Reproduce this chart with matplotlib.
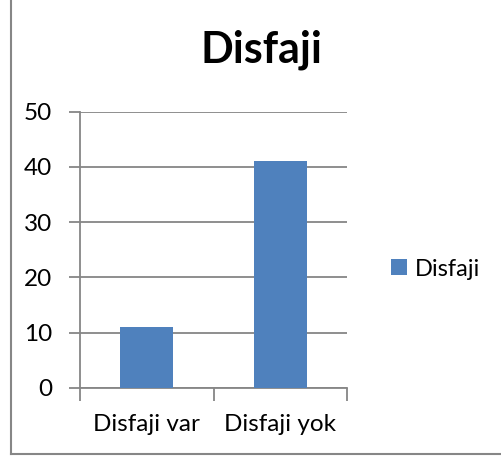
import matplotlib
matplotlib.use("Agg")
import matplotlib.pyplot as plt
from matplotlib.lines import Line2D

categories = ["Disfaji var", "Disfaji yok"]
values = [11, 41]
series_name = "Disfaji"
title = "Disfaji"
yticks = [0, 10, 20, 30, 40, 50]

plt.rcParams['font.family'] = ['Lato', 'DejaVu Sans']

W, H = 501, 459
fig = plt.figure(figsize=(W / 100, H / 100), dpi=100)
ax = fig.add_axes([80 / W, (H - 388) / H, (347 - 80) / W, (388 - 111.7) / H])

grid_col = "#868686"
bar_col = "#4F81BD"

bars = ax.bar([0.5, 1.5], values, width=0.4, color=bar_col, label=series_name, zorder=3)
ax.set_xlim(0, 2)
ax.set_ylim(0, 50)
ax.set_yticks(yticks)
ax.set_xticks([0, 1, 2])
ax.set_xticklabels([])
ax.set_xticks([0.5, 1.5], minor=True)
ax.set_xticklabels(categories, minor=True, fontsize=17.5)
ax.tick_params(axis="x", which="minor", length=0, pad=19)
ax.tick_params(axis="x", which="major", length=9, color=grid_col, width=1.3)
ax.tick_params(axis="y", length=8, color=grid_col, width=1.3, labelsize=17.5, pad=12)

ax.yaxis.grid(True, color=grid_col, linewidth=1.3, zorder=0)
for s in ["top", "right"]:
    ax.spines[s].set_visible(False)
ax.spines["left"].set_color(grid_col)
ax.spines["bottom"].set_color(grid_col)
ax.spines["left"].set_linewidth(1.3)
ax.spines["bottom"].set_linewidth(1.3)

fig.text(261 / W, 1 - 50 / H, title, ha="center", va="center", fontsize=31, fontweight="bold")

leg = fig.legend(handles=[bars], labels=[series_name], loc="center left",
                 bbox_to_anchor=(370 / W, 1 - 269 / H), frameon=False, fontsize=17,
                 handlelength=0.65, handleheight=0.65, handletextpad=0.35)

# outer chart border (left and bottom visible)
fig.add_artist(Line2D([11 / W, 11 / W], [1 - 454 / H, 1.0], transform=fig.transFigure,
                      color=grid_col, linewidth=1.5))
fig.add_artist(Line2D([11 / W, 1.0], [1 - 454 / H, 1 - 454 / H], transform=fig.transFigure,
                      color=grid_col, linewidth=1.5))

fig.savefig("out.png", dpi=100)
